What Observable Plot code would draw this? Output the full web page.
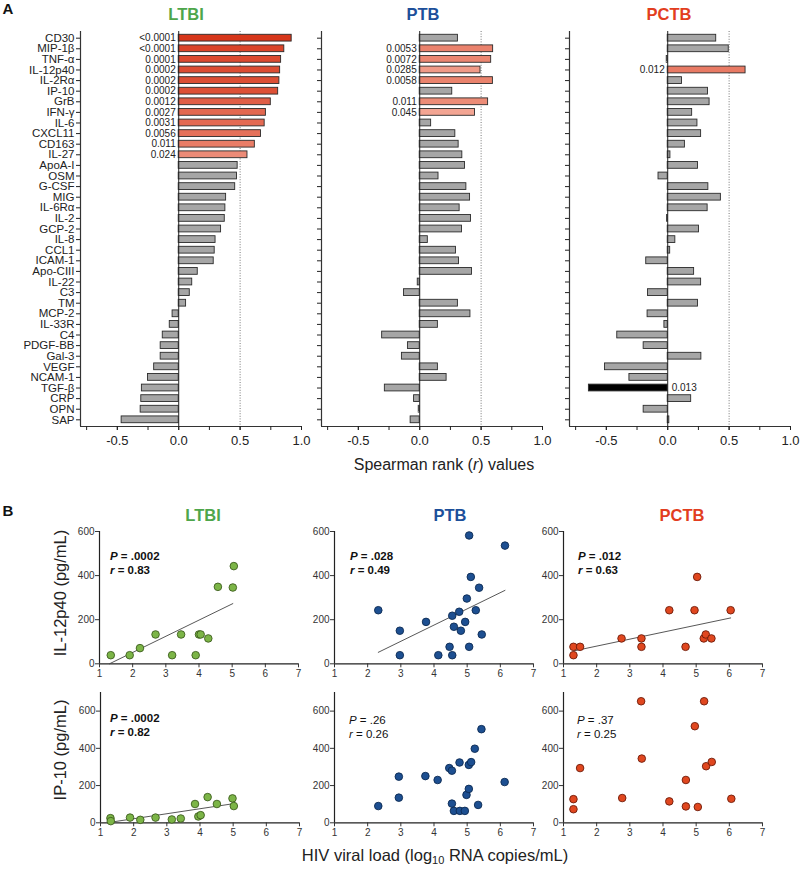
<!DOCTYPE html>
<html><head><meta charset="utf-8">
<script src="https://cdn.jsdelivr.net/npm/d3@7"></script>
<script src="https://cdn.jsdelivr.net/npm/@observablehq/plot@0.6"></script>
<style>
body{margin:0;background:#fff;font-family:"Liberation Sans",Arial,sans-serif;color:#222;}
#root{position:relative;width:800px;height:869px;overflow:hidden;background:#fff;}
.abs{position:absolute;white-space:nowrap;line-height:1;}
svg{position:absolute;overflow:visible;}
</style></head><body><div id="root"></div>
<script>
// ---------- Panel A data ----------
const cytokines = ["CD30","MIP-1β","TNF-α","IL-12p40","IL-2Rα","IP-10","GrB","IFN-γ","IL-6","CXCL11","CD163","IL-27","ApoA-I","OSM","G-CSF","MIG","IL-6Rα","IL-2","GCP-2","IL-8","CCL1","ICAM-1","Apo-CIII","IL-22","C3","TM","MCP-2","IL-33R","C4","PDGF-BB","Gal-3","VEGF","NCAM-1","TGF-β","CRP","OPN","SAP"];
const rLTBI = [0.92,0.86,0.834,0.826,0.82,0.81,0.75,0.71,0.70,0.67,0.62,0.56,0.48,0.475,0.46,0.386,0.38,0.375,0.345,0.30,0.293,0.285,0.155,0.11,0.09,0.06,-0.05,-0.073,-0.13,-0.147,-0.147,-0.20,-0.25,-0.30,-0.305,-0.31,-0.465];
const pLTBI = ["<0.0001","<0.0001","0.0001","0.0002","0.0002","0.0002","0.0012","0.0027","0.0031","0.0056","0.011","0.024",null,null,null,null,null,null,null,null,null,null,null,null,null,null,null,null,null,null,null,null,null,null,null,null,null];
const rPTB = [0.311,0.598,0.582,0.495,0.596,0.265,0.557,0.45,0.093,0.29,0.317,0.347,0.369,0.153,0.38,0.41,0.325,0.418,0.344,0.066,0.295,0.32,0.426,-0.016,-0.128,0.311,0.413,0.148,-0.306,-0.096,-0.145,0.148,0.219,-0.284,-0.046,-0.008,-0.074];
const pPTB = [null,"0.0053","0.0072","0.0285","0.0058",null,"0.011","0.045",null,null,null,null,null,null,null,null,null,null,null,null,null,null,null,null,null,null,null,null,null,null,null,null,null,null,null,null,null];
const rPCTB = [0.395,0.497,-0.008,0.634,0.116,0.328,0.341,0.199,0.242,0.272,0.14,0.022,0.247,-0.075,0.331,0.433,0.325,-0.005,0.255,0.062,0.02,-0.175,0.215,0.272,-0.161,0.247,-0.164,-0.027,-0.411,-0.196,0.274,-0.511,-0.312,-0.642,0.191,-0.196,0.013];
const pPCTB = [null,null,null,"0.012",null,null,null,null,null,null,null,null,null,null,null,null,null,null,null,null,null,null,null,null,null,null,null,null,null,null,null,null,null,"0.013",null,null,null];
const rTicks = [-0.75,-0.5,-0.25,0,0.25,0.5,0.75,1.0];
const rLabels = [-0.5,0,0.5,1.0];

// ---------- Panel B data ----------
const ltbiVL_IL12 = [1.34,1.91,2.22,2.69,3.19,3.46,3.90,4.00,4.05,4.28,4.57,5.02,5.05];
const ltbiIL12    = [39,39,71,133,39,133,39,133,133,115,349,346,443];
const ptbVL_IL12  = [2.32,2.97,2.97,3.76,4.13,4.47,4.55,4.55,4.60,4.76,4.81,4.94,4.99,5.06,5.06,5.11,5.26,5.36,5.44,6.14];
const ptbIL12     = [243,150,39,190,39,77,218,39,168,236,150,190,296,582,77,394,243,345,133,536];
const pctbVL_IL12 = [1.30,1.30,1.50,2.75,3.35,3.35,4.19,4.68,4.95,5.03,5.23,5.29,5.46,6.04];
const pctbIL12    = [77,39,77,115,115,77,243,77,243,394,115,133,115,243];
const ltbiVL_IP10 = [1.30,1.31,1.89,2.20,2.66,3.15,3.42,3.85,3.95,4.02,4.23,4.51,4.98,5.02];
const ltbiIP10    = [25,9,28,16,28,18,23,101,34,41,138,101,131,90];
const ptbVL_IP10  = [2.32,2.94,2.94,3.74,4.11,4.46,4.54,4.54,4.60,4.77,4.78,4.93,4.98,5.05,5.05,5.12,5.23,5.33,5.43,6.13];
const ptbIP10     = [90,248,135,251,230,294,280,103,64,324,64,64,150,182,311,326,398,96,503,219];
const pctbVL_IP10 = [1.30,1.30,1.50,2.77,3.34,3.36,4.19,4.69,4.69,4.96,5.05,5.24,5.30,5.47,6.06];
const pctbIP10    = [127,73,294,133,653,345,115,230,88,519,85,653,304,327,129];
// fitted lines (end points)
const fitLTBI_IL12 = {x:[1.3,5.02], y:[0,273]};
const fitPTB_IL12  = {x:[2.32,6.14], y:[52,333]};
const fitPCTB_IL12 = {x:[1.3,6.04], y:[58,208]};
const fitLTBI_IP10 = {x:[1.3,5.02], y:[3,103]};
const vlTicks = [1,2,3,4,5,6,7];
const concTicks = [0,200,400,600];

// ---------- helpers ----------
const root = document.getElementById("root");
const FONT = "'Liberation Sans', Arial, sans-serif";
function put(svg, left, top){ svg.style.left = left+"px"; svg.style.top = top+"px"; root.appendChild(svg); }
function label(html, x, y, css){
  const d = document.createElement("div"); d.className = "abs"; d.innerHTML = html;
  Object.assign(d.style, {left: x+"px", top: y+"px", transform: "translate(-50%,-50%)"}, css||{});
  root.appendChild(d); return d;
}
const sigColor = r => d3.interpolateRgb("#f3a593", "#d6361a")(Math.max(0, Math.min(1, (r-0.45)/(0.92-0.45))));

// ---------- Panel A ----------
const A = {ml: 80, mr: 8, mt: 31, mb: 30, pw: 221, ph: 395};
function barPanel(r, p, showLabels){
  const data = cytokines.map((name,i)=>({name, i, r: r[i], p: p[i]}));
  const fillFor = d => d.p == null ? "#a6a6a6" : (d.r < 0 ? "#000" : sigColor(d.r));
  return Plot.plot({
    width: A.ml + A.pw + A.mr, height: A.mt + A.ph + A.mb,
    marginLeft: A.ml, marginRight: A.mr, marginTop: A.mt, marginBottom: A.mb,
    x: {domain: [-0.8, 1.0], label: null},
    y: {domain: [-0.63, 36.63], reverse: true, label: null},
    color: {type: "identity"},
    style: {fontFamily: FONT, color: "#222", background: "transparent", overflow: "visible"},
    marks: [
      Plot.ruleX([0.5], {stroke: "#555", strokeWidth: 0.8, strokeDasharray: "1,1.6"}),
      Plot.rectX(data, {x1: 0, x2: "r", y1: d => d.i - 0.32, y2: d => d.i + 0.32, fill: fillFor, stroke: "#2b2b2b", strokeWidth: 0.9}),
      Plot.ruleX([0], {stroke: "#222", strokeWidth: 1}),
      Plot.text(data.filter(d => d.p != null && d.r > 0), {x: 0, y: "i", text: "p", textAnchor: "end", dx: -3, fontSize: 10, fill: "#222"}),
      Plot.text(data.filter(d => d.p != null && d.r < 0), {x: 0, y: "i", text: "p", textAnchor: "start", dx: 4, fontSize: 10, fill: "#222"}),
      Plot.ruleX([-0.8], {stroke: "#333", strokeWidth: 1.2}),
      Plot.ruleY([36.63], {stroke: "#333", strokeWidth: 1.2}),
      Plot.axisY({ticks: d3.range(cytokines.length), tickSize: 4, tickPadding: 2, fontSize: 11.5, label: null,
                  tickFormat: showLabels ? (i => cytokines[i]) : (() => "")}),
      Plot.axisX({ticks: rTicks, tickSize: 4, label: null, tickFormat: () => ""}),
      Plot.axisX({ticks: rLabels, tickSize: 4, tickPadding: 5, fontSize: 13, label: null, tickFormat: d => d.toFixed(1)})
    ]
  });
}
put(barPanel(rLTBI, pLTBI, true), 0, 0);
put(barPanel(rPTB, pPTB, false), 241, 0);
put(barPanel(rPCTB, pPCTB, false), 489, 0);

// ---------- Panel B ----------
function scatter(xs, ys, ymax, ph, fill, stroke, fit){
  const data = xs.map((x,i)=>({x, y: ys[i]}));
  const marks = [
    Plot.ruleX([1], {y1: 0, y2: ymax, stroke: "#222", strokeWidth: 1.2}),
    Plot.ruleY([0], {x1: 1, x2: 7, stroke: "#222", strokeWidth: 1.2}),
    Plot.axisX({ticks: vlTicks, tickSize: 4, tickPadding: 2, fontSize: 10, label: null, tickFormat: d => String(d)}),
    Plot.axisY({ticks: concTicks, tickSize: 4, tickPadding: 1, fontSize: 10, label: null, tickFormat: d => String(d)})
  ];
  if (fit) marks.push(Plot.line(fit.x.map((x,i)=>({x, y: fit.y[i]})), {x: "x", y: "y", stroke: "#444", strokeWidth: 0.9}));
  marks.push(Plot.dot(data, {x: "x", y: "y", r: 3.8, fill, stroke, strokeWidth: 0.9}));
  return Plot.plot({
    width: 40 + 199 + 10, height: 10 + ph + 22,
    marginLeft: 40, marginRight: 10, marginTop: 10, marginBottom: 22,
    x: {domain: [1, 7], label: null}, y: {domain: [0, ymax], label: null},
    style: {fontFamily: FONT, color: "#333", background: "transparent", overflow: "visible"},
    marks
  });
}
const G = ["#7cb547", "#3d5e1e"], Bl = ["#1d4f91", "#0c2a52"], Rd = ["#e0471f", "#6e1b09"];
put(scatter(ltbiVL_IL12, ltbiIL12, 600, 132.3, G[0], G[1], fitLTBI_IL12), 59.3, 520.7);
put(scatter(ptbVL_IL12, ptbIL12, 600, 132.3, Bl[0], Bl[1], fitPTB_IL12), 293.5, 520.7);
put(scatter(pctbVL_IL12, pctbIL12, 600, 132.3, Rd[0], Rd[1], fitPCTB_IL12), 522.7, 520.7);
put(scatter(ltbiVL_IP10, ltbiIP10, 700, 130.3, G[0], G[1], fitLTBI_IP10), 59.5, 681.7);
put(scatter(ptbVL_IP10, ptbIP10, 700, 130.3, Bl[0], Bl[1], null), 293.5, 681.7);
put(scatter(pctbVL_IP10, pctbIP10, 700, 130.3, Rd[0], Rd[1], null), 523, 681.7);

// ---------- Text ----------
const green = "#4ea64b", blue = "#1d4f9a", red = "#e23d20";
label("A", 8, 8, {fontWeight: "bold", fontSize: "15px", color: "#111"});
label("B", 8, 510, {fontWeight: "bold", fontSize: "15px", color: "#111"});
label("LTBI", 186, 14, {fontWeight: "bold", fontSize: "16.5px", color: green});
label("PTB", 423, 14, {fontWeight: "bold", fontSize: "16.5px", color: blue});
label("PCTB", 669, 14, {fontWeight: "bold", fontSize: "16.5px", color: red});
label("Spearman rank (<i>r</i>) values", 444, 465, {fontSize: "16px", color: "#222"});
label("LTBI", 203, 515, {fontWeight: "bold", fontSize: "16.5px", color: green});
label("PTB", 450, 515, {fontWeight: "bold", fontSize: "16.5px", color: blue});
label("PCTB", 682, 515, {fontWeight: "bold", fontSize: "16.5px", color: red});
label("IL-12p40 (pg/mL)", 60, 593, {fontSize: "16.5px", color: "#222", transform: "translate(-50%,-50%) rotate(-90deg)"});
label("IP-10 (pg/mL)", 60, 750, {fontSize: "16.5px", color: "#222", transform: "translate(-50%,-50%) rotate(-90deg)"});
label("HIV viral load (log<sub style='font-size:11px;vertical-align:-3px'>10</sub> RNA copies/mL)", 435, 856, {fontSize: "16.5px", color: "#222"});
function stat(P, r, x, y, bold){
  const css = {fontSize: "11.5px", color: "#111", fontWeight: bold ? "bold" : "normal", transform: "translate(0,-50%)"};
  label("<i>P</i> = " + P, x, y, css);
  label("<i>r</i> = " + r, x, y + 14, css);
}
stat(".0002", "0.83", 110, 557, true);
stat(".028", "0.49", 350, 557, true);
stat(".012", "0.63", 578, 557, true);
stat(".0002", "0.82", 110, 719, true);
stat(".26", "0.26", 349, 721, false);
stat(".37", "0.25", 577, 721, false);
</script></body></html>
